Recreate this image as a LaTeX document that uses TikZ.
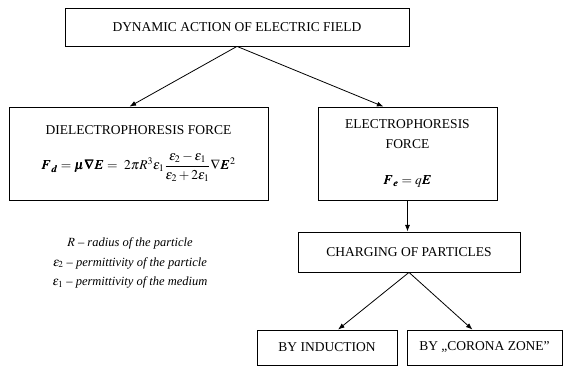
\documentclass[tikz,border=0pt]{standalone}
\usepackage{amsmath}
\usepackage{mathptmx}
\usepackage{bm}
\usepackage{fontspec}
\setmainfont{Liberation Serif}
\usetikzlibrary{arrows.meta}

\begin{document}
\begin{tikzpicture}[x=1pt, y=1pt, >=Latex,
  box/.style={draw, line width=0.8pt, align=center, font=\fontsize{13.5}{20}\selectfont}]
\useasboundingbox (0,0) rectangle (563,367);
% Top: the field
\node[box, minimum width=344, minimum height=38] (field) at (237,340) {DYNAMIC ACTION OF ELECTRIC FIELD};

% Left: dielectrophoresis
\node[box, minimum width=259, minimum height=93] (dielec) at (138.5,213.5)
  {DIELECTROPHORESIS FORCE\\[15pt]
   $\bm{F_d}=\bm{\mu\nabla E}=\ 2\pi R^3\varepsilon_1\dfrac{\varepsilon_2-\varepsilon_1}{\varepsilon_2+2\varepsilon_1}\nabla\bm{E}^2$};
\node[align=center, font=\fontsize{12.5}{19.5}\selectfont\itshape] (notes) at (130,104)
  {$R$ -- radius of the particle\\
   $\varepsilon_2$ -- permittivity of the particle\\
   $\varepsilon_1$ -- permittivity of the medium};

% Right: electrophoresis
\node[box, minimum width=179, minimum height=93] (elphor) at (407.5,213.5)
  {ELECTROPHORESIS\\FORCE\\[16pt]$\bm{F_e}=q\bm{E}$};
\node[box, minimum width=222, minimum height=40] (charging) at (409,115) {CHARGING OF PARTICLES};
\node[box, minimum width=140, minimum height=35] (induct) at (327,19.5) {BY INDUCTION};
\node[box, minimum width=155, minimum height=35] (corona) at (484.5,19.5) {BY „CORONA ZONE”};

% Arrows
\draw[->, line width=0.8pt] (field.south) -- ([xshift=-9]dielec.north);
\draw[->, line width=0.8pt] (field.south) -- ([xshift=-24]elphor.north);
\draw[->, line width=0.8pt] (elphor.south) -- (elphor.south |- charging.north);
\draw[->, line width=0.8pt] (charging.south) -- ([xshift=11]induct.north);
\draw[->, line width=0.8pt] (charging.south) -- ([xshift=-12]corona.north);
\end{tikzpicture}
\end{document}
